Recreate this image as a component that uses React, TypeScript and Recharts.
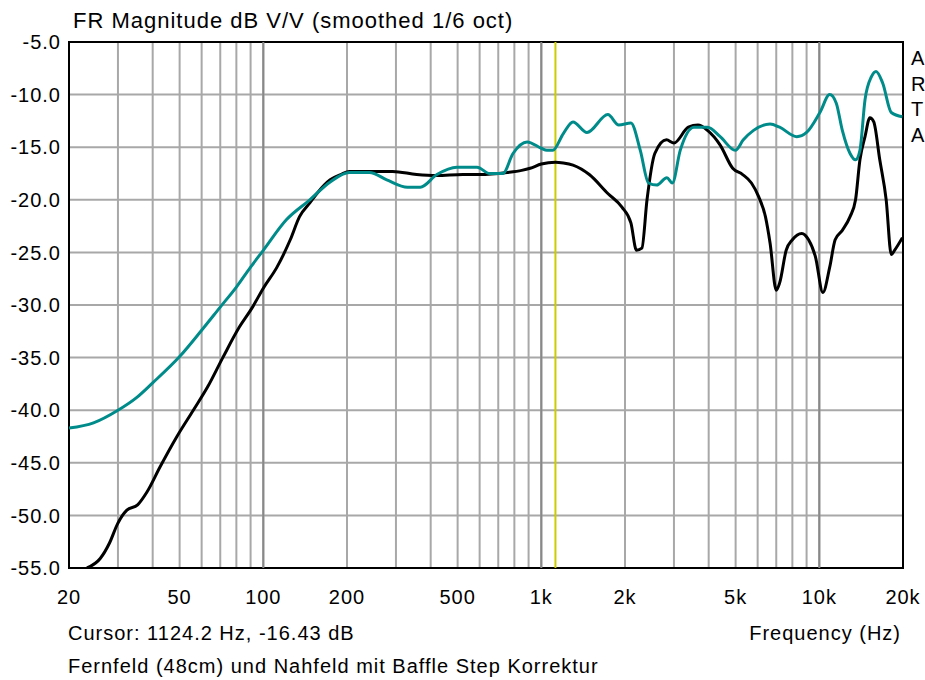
import React from 'react';
import { LineChart, Line, XAxis, YAxis, CartesianGrid, ReferenceLine, ReferenceArea } from 'recharts';

// Far-field (black) measurement
const blackFreq = [23.2, 25.9, 28, 29.9, 32.3, 35.3, 38.1, 42.5, 48.9, 56, 63, 71.5, 82, 91, 100, 112, 125, 135, 147, 157, 174, 190, 204, 250, 292, 356, 420, 522, 600, 753, 850, 912, 1000, 1124, 1200, 1300, 1488, 1735, 1950, 2100, 2200, 2300, 2400, 2560, 2820, 3000, 3380, 3660, 3960, 4400, 4880, 5300, 5700, 6050, 6400, 6650, 7000, 7200, 7600, 8000, 8650, 9150, 9680, 10300, 10900, 11400, 12100, 12900, 13500, 14000, 14600, 15200, 15700, 16500, 17400, 18150, 18650, 19900];
const blackDb = [-55, -54.1, -52.6, -50.8, -49.5, -49.0, -47.8, -45.4, -42.5, -40, -37.8, -35, -32.1, -30.3, -28.4, -26.4, -23.8, -21.6, -20.3, -19.3, -18.1, -17.6, -17.3, -17.3, -17.3, -17.6, -17.7, -17.6, -17.6, -17.4, -17.2, -17.0, -16.6, -16.43, -16.5, -16.7, -17.6, -19.4, -20.7, -22.2, -24.8, -24.6, -20.0, -15.6, -14.3, -14.6, -13.1, -12.9, -13.4, -14.8, -17.0, -17.6, -18.4, -19.7, -21.6, -24.1, -28.6, -27.9, -24.8, -23.8, -23.2, -23.8, -25.4, -28.8, -26.4, -23.8, -22.9, -21.6, -20.0, -16.2, -14.0, -12.2, -12.6, -16.2, -20.0, -25.2, -24.8, -23.6];

// Near-field with baffle step correction (teal)
const tealFreq = [20, 24.5, 30, 35, 40, 50, 60, 70, 80, 90, 100, 121, 147, 174, 204, 241, 278, 330, 367, 421, 497, 587, 652, 727, 791, 889, 1000, 1047, 1100, 1200, 1300, 1460, 1735, 1900, 2100, 2270, 2430, 2600, 2830, 2960, 3160, 3540, 3960, 4400, 4990, 5330, 5800, 6650, 7200, 8300, 9000, 10050, 10900, 11500, 12100, 12900, 13500, 14000, 14600, 15400, 16000, 16900, 18150, 19900];
const tealDb = [-41.7, -41.2, -40, -38.8, -37.4, -34.9, -32.4, -30.2, -28.3, -26.4, -24.8, -21.9, -20.0, -18.3, -17.4, -17.4, -18.1, -18.8, -18.8, -17.6, -16.9, -16.9, -17.5, -17.5, -15.6, -14.5, -15.1, -15.3, -15.3, -13.7, -12.6, -13.6, -11.9, -12.9, -12.7, -15.3, -18.4, -18.6, -17.9, -18.4, -15.3, -13.1, -13.1, -14.0, -15.3, -14.3, -13.4, -12.8, -13.1, -14.0, -13.6, -11.7, -10.0, -10.8, -13.4, -15.6, -16.2, -15.3, -10.5, -8.3, -7.8, -8.9, -11.7, -12.1];

const gridFreqs = [20, 30, 40, 50, 60, 70, 80, 90, 100, 200, 300, 400, 500, 600, 700, 800, 900, 1000, 2000, 3000, 4000, 5000, 6000, 7000, 8000, 9000, 10000, 20000];
const labeledFreqs = [20, 50, 100, 200, 500, 1000, 2000, 5000, 10000, 20000];
const freqLabels = ['20', '50', '100', '200', '500', '1k', '2k', '5k', '10k', '20k'];
const decadeFreqs = [100, 1000, 10000];
const yTicks = [-55, -50, -45, -40, -35, -30, -25, -20, -15, -10, -5];
const legendLetters = ['A', 'R', 'T', 'A'];
const cursorFreq = 1124.2;

const blackData = blackFreq.map((f, i) => ({ f, db: blackDb[i] }));
const tealData = tealFreq.map((f, i) => ({ f, db: tealDb[i] }));

const FONT = '"Liberation Sans", Arial, sans-serif';

const XTick = (props: any) => {
  const { x, y, payload } = props;
  const idx = labeledFreqs.indexOf(payload.value);
  if (idx < 0) return null;
  return (
    <text x={x} y={y} dy="0.71em" textAnchor="middle" fill="#000" fontSize={20} fontFamily={FONT} letterSpacing={1}>
      {freqLabels[idx]}
    </text>
  );
};

const YTick = (props: any) => {
  const { x, y, payload } = props;
  return (
    <text x={x} y={y} dy="0.355em" textAnchor="end" fill="#000" fontSize={20} fontFamily={FONT} letterSpacing={1}>
      {Number(payload.value).toFixed(1)}
    </text>
  );
};

export default function App() {
  return (
    <div style={{ position: 'absolute', left: 0, top: 0, width: 925, height: 680, background: '#fff' }}>
      <LineChart width={925} height={680} margin={{ top: 42, right: 22, bottom: 82, left: 0 }}>
        <CartesianGrid stroke="#a8a8a8" strokeWidth={2} />
        <XAxis
          dataKey="f"
          type="number"
          scale="log"
          domain={[20, 20000]}
          allowDataOverflow
          ticks={gridFreqs}
          interval={0}
          tickLine={false}
          axisLine={false}
          tickSize={6}
          tickMargin={16}
          height={30}
          tick={<XTick />}
        />
        <YAxis
          type="number"
          domain={[-55, -5]}
          allowDataOverflow
          ticks={yTicks}
          interval={0}
          width={69}
          tickLine={false}
          axisLine={false}
          tickSize={6}
          tickMargin={2}
          tick={<YTick />}
        />
        {decadeFreqs.map((f) => (
          <ReferenceLine key={f} x={f} stroke="#888888" strokeWidth={2} />
        ))}
        <ReferenceLine x={cursorFreq} stroke="#cccc00" strokeWidth={2} />
        <Line data={blackData} dataKey="db" type="monotone" stroke="#000000" strokeWidth={3} dot={false} isAnimationActive={false} />
        <Line data={tealData} dataKey="db" type="monotone" stroke="#008b8b" strokeWidth={3} dot={false} isAnimationActive={false} />
        <ReferenceArea x1={20} x2={20000} y1={-55} y2={-5} fill="none" stroke="#000" strokeWidth={2} />
      </LineChart>
      <svg width={925} height={680} style={{ position: 'absolute', left: 0, top: 0, pointerEvents: 'none' }}>
        <g fontFamily={FONT} fill="#000" letterSpacing={1}>
          <text x={73} y={28} fontSize={22}>FR Magnitude dB V/V (smoothed 1/6 oct)</text>
          <text x={68} y={640} fontSize={20}>Cursor: 1124.2 Hz, -16.43 dB</text>
          <text x={901} y={640} fontSize={20} textAnchor="end">Frequency (Hz)</text>
          <text x={68} y={673} fontSize={20}>Fernfeld (48cm) und Nahfeld mit Baffle Step Korrektur</text>
          {legendLetters.map((l, i) => (
            <text key={i} x={911} y={65 + i * 25.5} fontSize={20}>{l}</text>
          ))}
        </g>
      </svg>
    </div>
  );
}
